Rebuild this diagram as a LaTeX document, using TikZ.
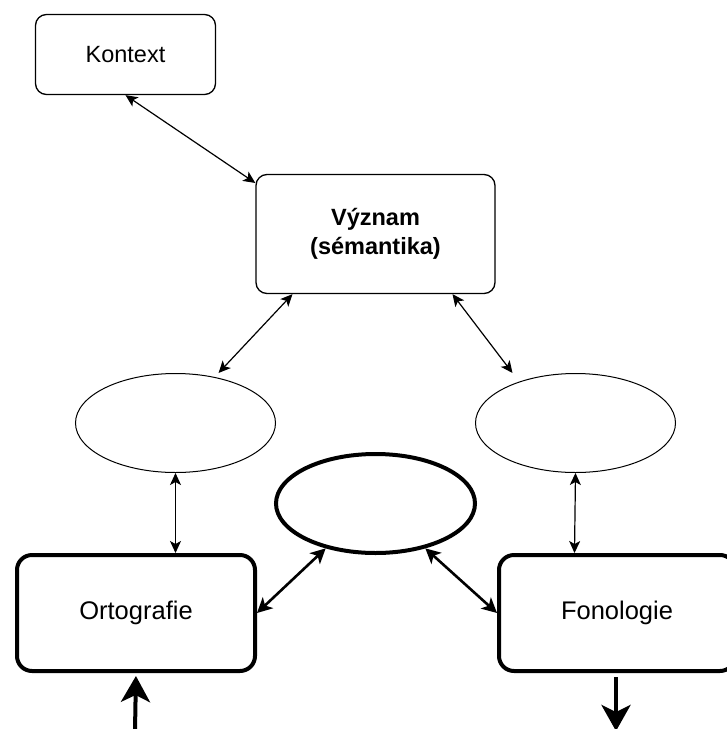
\documentclass[tikz,border=0pt]{standalone}
\usepackage{fontspec}
\setmainfont{Liberation Sans}
\usetikzlibrary{arrows.meta,shapes.geometric}

\begin{document}
\begin{tikzpicture}[
    x=1pt, y=-1pt,
    box/.style={rectangle, rounded corners=11pt, draw=black, line width=1.3pt,
        fill=white, align=center, font=\fontsize{23.5}{29.5}\selectfont},
    thickbox/.style={rectangle, rounded corners=15pt, draw=black, line width=4pt,
        fill=white, font=\fontsize{25.5}{30}\selectfont},
    oval/.style={ellipse, draw=black, line width=1pt, fill=white,
        minimum width=200pt, minimum height=99pt},
    thickoval/.style={ellipse, draw=black, line width=4pt, fill=white,
        minimum width=199pt, minimum height=99pt},
    link/.style={line width=1.2pt, {Stealth[length=12pt,width=11pt,inset=3pt]}-{Stealth[length=12pt,width=11pt,inset=3pt]}},
    thicklink/.style={line width=2.6pt, {Stealth[length=15pt,width=15pt,inset=4pt]}-{Stealth[length=15pt,width=15pt,inset=4pt]}},
    flow/.style={line width=4pt, -{Stealth[length=26pt,width=29pt,inset=7pt]}}
]
    \useasboundingbox (0,0) rectangle (727,729);
    \node[box, minimum width=180pt, minimum height=80pt] (kontext) at (125.5,54.5) {Kontext};
    \node[box, minimum width=239pt, minimum height=119pt, font=\fontsize{23.5}{29.5}\selectfont\bfseries] (vyznam) at (375.5,234) {Význam\\(sémantika)};
    \node[oval] (lelli) at (175.5,423) {};
    \node[oval] (relli) at (575.5,423) {};
    \node[thickoval] (melli) at (375.5,503.5) {};
    \node[thickbox, minimum width=238pt, minimum height=116pt] (orto) at (136,613) {Ortografie};
    \node[thickbox, minimum width=236pt, minimum height=116pt] (fono) at (617,613) {Fonologie};
    \coordinate (vstup) at (135,731);
    \coordinate (vystup) at (616,731);
    \draw[link] (kontext.south) -- (vyznam.157);
    \draw[link] ([xshift=-83pt]vyznam.south) -- ([xshift=43pt]lelli.north);
    \draw[link] ([xshift=77pt]vyznam.south) -- ([xshift=-63pt]relli.north);
    \draw[link] (lelli.south) -- (lelli.south |- orto.north);
    \draw[link] (relli.south) -- ([xshift=-1pt]relli.south |- fono.north);
    \draw[thicklink] (melli.222) -- (orto.east);
    \draw[thicklink] (melli.318) -- (fono.west);
    \draw[flow, shorten >=3pt] (vstup) -- (orto.south);
    \draw[flow, shorten <=4pt] ([xshift=-1pt]fono.south) -- (vystup);
\end{tikzpicture}
\end{document}
